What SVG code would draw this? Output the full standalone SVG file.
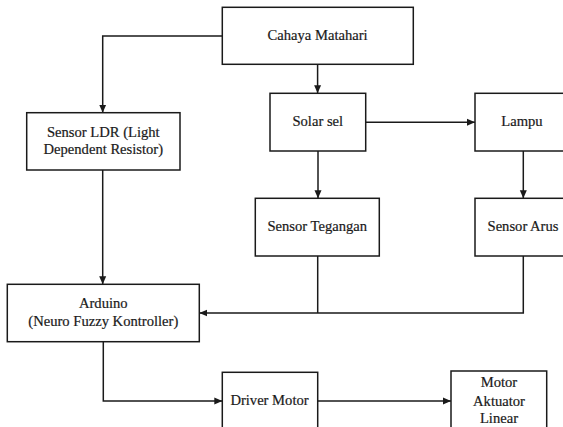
<svg xmlns="http://www.w3.org/2000/svg" width="563" height="427" viewBox="0 0 563 427">
<defs>
<marker id="arr" markerUnits="userSpaceOnUse" markerWidth="9" markerHeight="8" refX="8" refY="4" orient="auto">
<path d="M0,0.5 L8,4 L0,7.5 z" fill="#1a1a1a"/>
</marker>
<style>
.box{fill:#fff;stroke:#1a1a1a;stroke-width:1.5}
.ln{fill:none;stroke:#1a1a1a;stroke-width:1.5}
text{font-family:'Liberation Serif','Times New Roman',serif;font-size:14.6px;fill:#1a1a1a;stroke:#1a1a1a;stroke-width:0.2;text-anchor:middle}
</style>
</defs>
<rect width="563" height="427" fill="#fff"/>
<g id="connectors">
<path class="ln" d="M222.3,36 H102.7 V112.7" marker-end="url(#arr)"/>
<path class="ln" d="M317.6,64.3 V93.3" marker-end="url(#arr)"/>
<path class="ln" d="M365.7,122.3 H475" marker-end="url(#arr)"/>
<path class="ln" d="M318,151 V198.3" marker-end="url(#arr)"/>
<path class="ln" d="M523.3,151 V198.3" marker-end="url(#arr)"/>
<path class="ln" d="M102.7,170 V284.3" marker-end="url(#arr)"/>
<path class="ln" d="M317.7,256 V313"/>
<path class="ln" d="M523.3,256 V313 H199.3" marker-end="url(#arr)"/>
<path class="ln" d="M103.3,341.7 V401 H222.3" marker-end="url(#arr)"/>
<path class="ln" d="M317.7,401 H451" marker-end="url(#arr)"/>
</g>
<g id="cahaya"><rect class="box" x="222.3" y="7.3" width="191" height="57"/><text x="317.6" y="40">Cahaya Matahari</text></g>
<g id="solar"><rect class="box" x="270" y="93.3" width="95.7" height="57.7"/><text x="317.8" y="126">Solar sel</text></g>
<g id="lampu"><rect class="box" x="475" y="93.3" width="96" height="57.7"/><text x="522" y="126">Lampu</text></g>
<g id="ldr"><rect class="box" x="26.7" y="112.7" width="153.3" height="57.3"/><text x="103.3" y="136.5">Sensor LDR (Light</text><text x="103.3" y="154.3">Dependent Resistor)</text></g>
<g id="tegangan"><rect class="box" x="255.3" y="198.3" width="124" height="57.7"/><text x="317.3" y="231">Sensor Tegangan</text></g>
<g id="arus"><rect class="box" x="475" y="198.3" width="96" height="57.7"/><text x="523" y="231">Sensor Arus</text></g>
<g id="arduino"><rect class="box" x="7.3" y="284.3" width="192" height="57.4"/><text x="103.3" y="307.5">Arduino</text><text x="103.3" y="326">(Neuro Fuzzy Kontroller)</text></g>
<g id="driver"><rect class="box" x="222.3" y="372.3" width="95.4" height="62"/><text x="269.5" y="405">Driver Motor</text></g>
<g id="motor"><rect class="box" x="451" y="371" width="95.7" height="64"/><text x="499" y="386.5">Motor</text><text x="499" y="406">Aktuator</text><text x="499" y="423.3">Linear</text></g>
</svg>
